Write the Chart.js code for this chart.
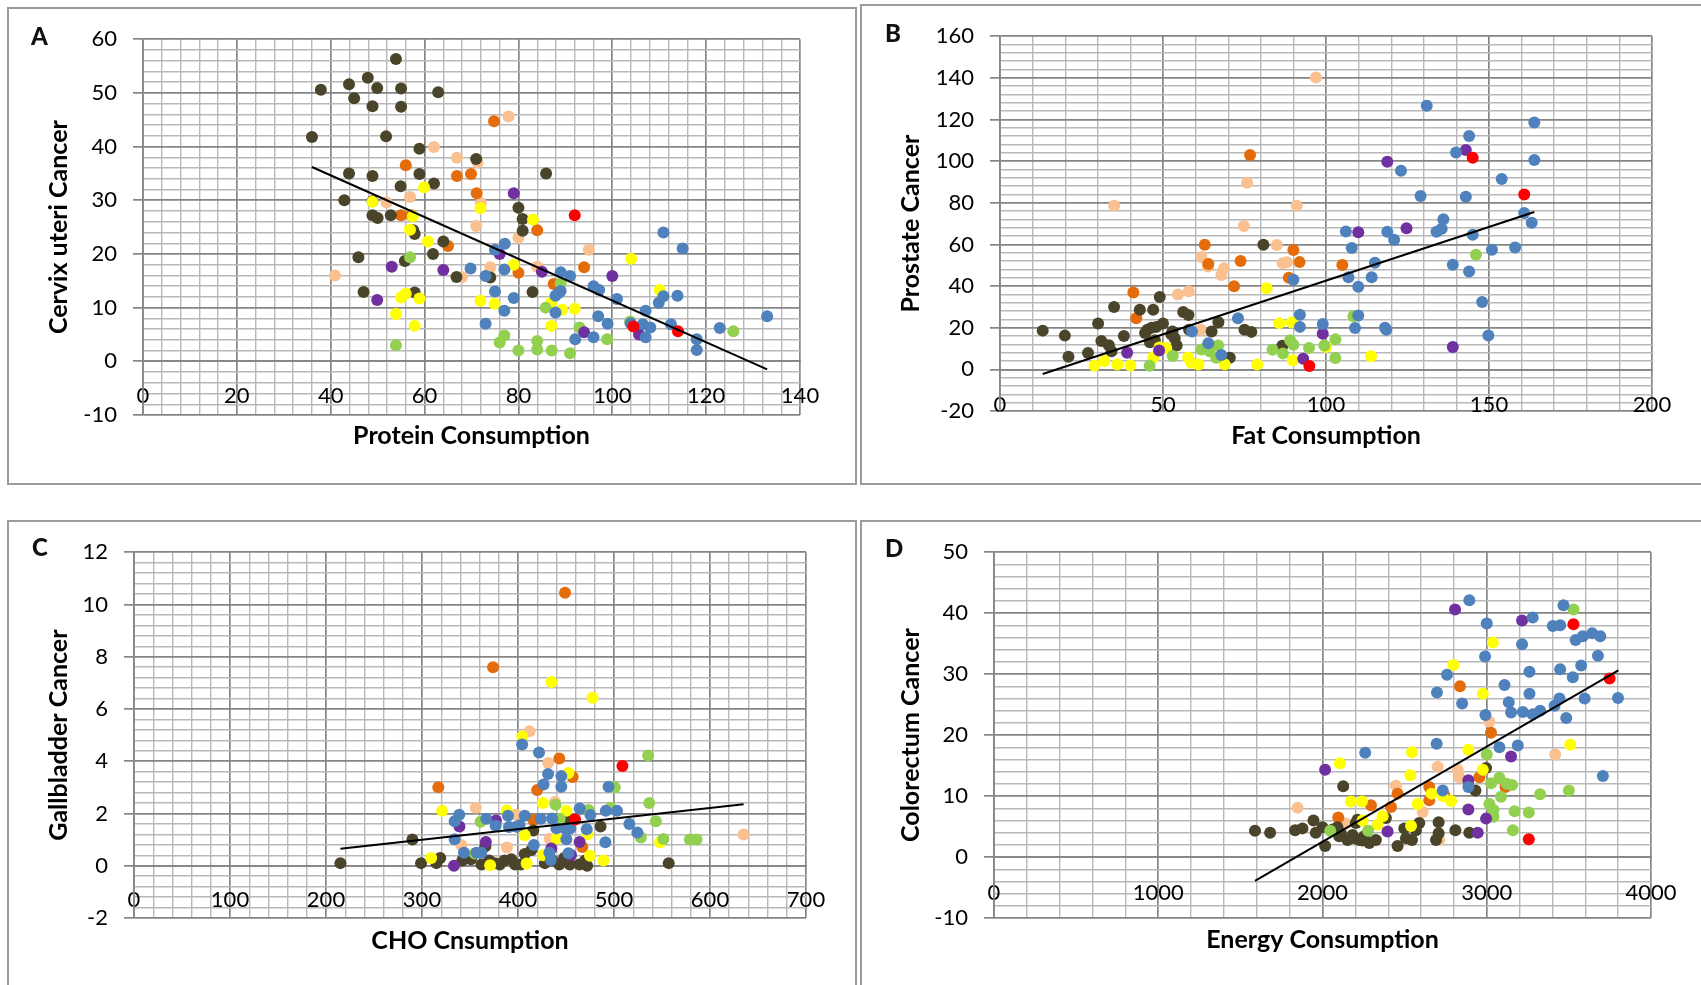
<!DOCTYPE html>
<html>
<head>
<meta charset="utf-8">
<script src="https://cdn.jsdelivr.net/npm/chart.js@4.4.1/dist/chart.umd.min.js"></script>
<style>
  body { margin: 0; background: #fff; overflow: hidden; font-family: Lato, sans-serif; }
  #page { position: relative; width: 1701px; height: 985px; }
  .frame { position: absolute; border: 2px solid #9b9b9b; box-sizing: border-box; }
  .tag { position: absolute; font: 900 24px Lato, sans-serif; line-height: 24px; color: #111; }
  canvas { position: absolute; }
</style>
</head>
<body>
<div id="page">
  <div class="frame" style="left:7px;top:7px;width:850px;height:478px"></div>
  <div class="frame" style="left:860px;top:4px;width:900px;height:481px"></div>
  <div class="frame" style="left:7px;top:520px;width:850px;height:500px"></div>
  <div class="frame" style="left:860px;top:520px;width:900px;height:500px"></div>

  <canvas id="chartA" width="844" height="472" style="left:10px;top:10px"></canvas>
  <canvas id="chartB" width="838" height="474" style="left:863px;top:7px"></canvas>
  <canvas id="chartC" width="844" height="462" style="left:10px;top:523px"></canvas>
  <canvas id="chartD" width="838" height="462" style="left:863px;top:523px"></canvas>

  <div class="tag" style="left:31px;top:24px">A</div>
  <div class="tag" style="left:885px;top:21px">B</div>
  <div class="tag" style="left:32px;top:535px">C</div>
  <div class="tag" style="left:885px;top:536px">D</div>
</div>
<script>
// colours of the country groups
const BROWN = "#4A452A", ORANGE = "#E46C0A", PEACH = "#FAC090", YELLOW = "#FFFF00";
const GREEN = "#92D050", PURPLE = "#7030A0", BLUE = "#4F81BD", RED = "#FF0000";
const MAJOR = "#858585", MINOR = "#b8b8b8";

// ---- A: protein vs cervix uteri cancer
const aBrown = [[36,41.8],[37.9,50.6],[43.9,51.6],[45,49],[47.9,52.8],[49.9,50.9],[48.9,47.5],[53.9,56.3],[55,50.8],[55,47.4],[51.8,41.9],[58.9,39.6],[43.9,35],[48.9,34.5],[58.9,34.9],[54.9,32.6],[42.9,30],[48.9,29.8],[48.9,27.2],[50,26.7],[52.8,27.2],[57.9,23.7],[57.6,24.4],[55.8,18.7],[45.9,19.4],[47,12.9],[57.9,12.8],[61.8,20],[62,33.1],[62.9,50.1],[71,37.7],[64,22.3],[66.8,15.7],[74,15.6],[80,28.6],[80.9,26.5],[80.9,24.3],[85.9,35],[83,12.9]];
const aOrange = [[56,36.5],[55,27.2],[57.2,27.2],[74.8,44.7],[66.9,34.5],[69.9,34.9],[71.1,31.3],[65,21.5],[84,24.4],[80,16.5],[94,17.5],[87.5,14.4]];
const aPeach = [[40.9,16],[51.9,29.6],[56.9,30.6],[62,39.9],[66.9,37.9],[77.9,45.6],[72,29.5],[71,25.2],[80,23],[95,20.8],[74,17.5],[68,15.7],[84,17.6],[71.3,37.1]];
const aYellow = [[59.9,32.4],[60.7,22.3],[48.9,29.7],[56.9,24.5],[57.5,27],[55,11.9],[56,12.6],[58.9,11.7],[53.9,8.8],[57.9,6.6],[71.9,28.5],[79,18],[83.1,26.4],[71.9,11.3],[74.9,10.7],[87,11],[89.3,9.6],[92,9.8],[87,6.6],[104,19.1],[110.1,13.3]];
const aGreen = [[56.9,19.4],[53.9,3],[77,4.8],[76,3.5],[80,2],[84,3.8],[84,2.2],[87.1,2],[91,1.5],[85.8,10],[93,6.3],[98.9,4.1],[103.8,7.4],[125.8,5.6],[89,14.5]];
const aPurple = [[53,17.6],[49.9,11.4],[64,17],[79,31.3],[76,20],[85,16.7],[100,15.9],[94,5.4],[105.7,5]];
const aRed = [[92,27.2],[114,5.6],[104.5,6.5]];
const aBlue = [[110.9,24],[115,21],[77.1,21.9],[75,20.8],[69.8,17.3],[77,17.1],[73,15.9],[75,13],[79,11.8],[77,9.4],[73,7],[89,16.6],[91,15.9],[96,14],[97.2,13.3],[89,13.1],[87.9,12.2],[87.9,9.1],[92.1,4.1],[96,4.5],[97,8.4],[99,7],[101,11.6],[107.1,9.4],[109.9,10.9],[110.9,12.1],[113.9,12.2],[103.9,7.1],[106.5,6.9],[108.1,6.3],[107.1,4.5],[112.5,6.9],[118,4.1],[118,2.1],[122.9,6.2],[133,8.4],[88.5,12.7]];
const aTrend = [[36,36.2],[133,-1.5]];

// ---- B: fat vs prostate cancer
const bBrown = [[13.1,18.6],[19.9,16.2],[21,6.1],[27,7.9],[30.1,22],[31.1,13.6],[33.4,11.6],[34.2,8.7],[35,30],[38,16],[42.9,28.6],[47,28.6],[49,34.7],[45.2,19],[46.5,20],[48,20.4],[46,13],[47.5,14],[52.9,18.2],[53.6,14.9],[54.2,11.5],[52.6,16.7],[56.2,27.6],[57.8,26.1],[58,19],[64.9,18.2],[67,22.6],[70.5,5.6],[75,19],[77.1,18],[80.8,59.8],[86.6,11.3],[44.5,17.5],[50,22]];
const bOrange = [[40.9,36.9],[41.8,24.6],[62.8,59.8],[63.9,50.6],[71.8,39.9],[73.8,52],[76.7,102.9],[90,57.3],[91.9,51.5],[88.6,44],[105,50.1]];
const bPeach = [[35,78.6],[75.8,89.6],[74.8,68.9],[54.6,35.9],[57.9,37.5],[61.8,54],[63.8,49.4],[67.9,45.3],[68.7,48.5],[84.9,59.7],[86.7,51],[96.9,140.2],[91,78.6],[88,51.4],[61.7,19]];
const bYellow = [[29,1.7],[32,4],[36,2.3],[40,1.9],[47,5.7],[48.9,10.5],[51,10.3],[57.7,5.7],[58.7,3.2],[60.9,2.3],[68.9,2.4],[78.9,2.3],[81.8,38.9],[85.7,22.2],[89.5,22.5],[89.8,4.4],[113.8,6.3],[100,10.7]];
const bGreen = [[45.9,1.7],[53,6.4],[61.8,9.5],[64.3,8.7],[66.9,11.5],[66.3,5.6],[83.6,9.4],[86.8,7.6],[89,14],[90,11.8],[94.8,10.3],[99.5,11.5],[102.9,14.4],[102.9,5.5],[108.4,25.5],[146,55]];
const bPurple = [[39,8],[48.8,9.1],[118.8,99.7],[109.9,65.9],[124.7,67.8],[142.9,105.3],[99,17.1],[93,5.1],[138.9,10.7]];
const bRed = [[145,101.6],[160.8,84],[94.9,1.6]];
const bBlue = [[58.9,18.2],[63.9,12.5],[67.9,6.9],[73,24.6],[130.9,126.6],[143.9,112.1],[139.9,104.1],[123,95.4],[163.9,118.6],[163.9,100.5],[153.9,91.4],[129,83.3],[142.9,82.9],[160.8,75.1],[163.1,70.4],[136,72.1],[133.9,66.1],[135.5,67.5],[118.8,66.1],[120.9,62.2],[106.1,66.2],[107.9,58.3],[145,64.6],[150.9,57.4],[158,58.5],[115,51.2],[106.9,44.2],[114,44.2],[109.9,39.7],[138.9,50.2],[143.9,47],[147.9,32.3],[149.8,16.3],[90,43],[92,26.2],[92,20.4],[99,21.8],[109.9,25.9],[108.9,19.9],[118.1,20],[118.5,19]];
const bTrend = [[13.1,-2.2],[163.9,75.6]];

// ---- C: CHO vs gallbladder cancer
const cBrown = [[215,0.1],[290,1.0],[299,0.1],[315,0.1],[319,0.3],[342,0.2],[351,0.25],[362,0.05],[366,0.75],[370,0.2],[381,0.05],[386,0.2],[393,0.25],[397,0.05],[403,0.05],[407,0.45],[414,0.6],[416,1.35],[428,0.1],[436,0.2],[443,0.05],[448,0.3],[454,0.05],[454,1.75],[464,0.05],[470,0.2],[472,0],[486,1.5],[557,0.1],[376,0.1]];
const cOrange = [[449,10.45],[374,7.6],[317,3.0],[443,4.1],[457,3.4],[420,2.9],[416,1.75],[467,0.72],[443,1.5]];
const cPeach = [[412,5.15],[635,1.2],[431.5,3.93],[356,2.22],[388.5,0.7],[341,0.79],[433,1.03],[438.5,2.44],[398,1.95]];
const cYellow = [[404.5,4.95],[434.8,7.03],[477.6,6.43],[321,2.1],[309.6,0.3],[371,0.02],[409,0.09],[489,0.2],[548,0.9],[475,0.38],[426,2.4],[452.5,3.55],[407,1.17],[388.3,2.11],[450.4,2.1],[472,1.2],[440,1.04],[426,0.4]];
const cGreen = [[535.6,4.22],[536.7,2.4],[543.6,1.7],[528,1.08],[551.5,1.02],[579,1.0],[586,1.0],[500.8,3.0],[439.2,2.33],[473.5,2.13],[361,1.68],[496.5,2.22],[355,0.47],[443.4,1.8]];
const cPurple = [[339,1.5],[377,1.73],[366.5,0.91],[333.3,0],[464.2,0.91],[455.2,0.41],[434.7,0.66]];
const cRed = [[508.8,3.82],[459.5,1.77]];
const cBlue = [[404.3,4.64],[421.9,4.33],[431.3,3.51],[426.7,3.11],[445.1,3.43],[445.1,3.02],[494.3,3.02],[338.8,1.95],[334,1.7],[367,1.8],[376.7,1.53],[389.6,1.91],[390.6,1.48],[401.5,1.55],[407,1.91],[423.8,1.8],[435.6,1.81],[440,1.43],[450.4,1.01],[454.6,1.43],[464.3,2.19],[475.4,1.94],[471.6,1.4],[491.4,2.1],[503.2,2.1],[516,1.6],[524.3,1.27],[491,0.9],[334,1.01],[343.7,0.5],[356.9,0.5],[361.8,0.5],[416.5,0.79],[432.7,0.5],[434.2,0.22],[452.5,0.48],[449.3,1.42],[398.3,1.49]];
const cTrend = [[215,0.65],[635,2.35]];

// ---- D: energy vs colorectum cancer
const dBrown = [[1589,4.3],[1681,4.0],[1833,4.4],[1878,4.7],[1945,6.0],[1959,4.0],[2000,4.9],[2016,1.8],[2061,4.5],[2091,4.9],[2102,3.4],[2112,3.9],[2126,11.6],[2152,2.8],[2183,3.6],[2193,3.1],[2203,5.6],[2213,6.1],[2224,2.8],[2244,2.7],[2254,3.4],[2285,2.3],[2325,2.8],[2386,6.4],[2457,1.8],[2498,4.7],[2508,3.1],[2545,2.8],[2569,4.4],[2589,5.6],[2691,2.8],[2707,5.7],[2707,3.9],[2809,4.4],[2894,4.0],[2931,10.9],[2996,14.6]];
const dOrange = [[2096,6.5],[2295,8.5],[2417,8.2],[2457,10.4],[2650,11.5],[2650,9.3],[2742,10.1],[2955,13.1],[2837,28.0],[3026,20.4],[3114,11.5]];
const dPeach = [[1848,8.1],[2142,5.5],[2447,11.7],[2610,7.4],[2701,14.8],[2823,14.3],[2833,13.1],[2711,2.8],[3016,22.2],[3417,16.8]];
const dYellow = [[3037,35.2],[2797,31.5],[2976,26.8],[2888,17.6],[3508,18.4],[2106,15.4],[2545,17.2],[2535,13.4],[2173,9.1],[2240,9.1],[2366,6.7],[2335,5.3],[2579,8.7],[2732,10.0],[2783,9.2],[2664,10.4],[2976,14.3],[2539,5.1],[2244,6.0]];
const dGreen = [[3528,40.6],[3000,16.8],[3026,12.1],[3077,13.0],[3122,12.0],[3154,11.8],[3087,9.9],[3016,8.7],[3041,7.7],[3041,6.6],[3169,7.5],[3256,7.3],[3325,10.3],[3500,10.9],[3159,4.4],[2047,4.3],[2278,4.3]];
const dPurple = [[2807,40.6],[3215,38.8],[2016,14.3],[3148,16.5],[2888,12.6],[2888,7.8],[2996,6.3],[2396,4.2],[2945,4.0]];
const dRed = [[3528,38.2],[3748,29.3],[3256,2.9]];
const dBlue = [[2894,42.1],[3467,41.3],[3280,39.3],[3000,38.3],[3402,37.9],[3447,38.0],[3541,35.6],[3585,36.2],[3642,36.7],[3691,36.2],[3215,34.9],[2990,32.9],[3677,33.0],[2758,29.9],[3260,30.4],[3447,30.8],[3575,31.4],[3524,29.5],[3108,28.2],[2697,27.0],[3260,26.8],[2850,25.2],[3134,25.4],[3596,26.0],[3799,26.1],[3443,26.0],[3413,24.8],[3148,23.7],[3220,23.8],[3280,23.4],[3325,24.0],[2992,23.3],[3484,22.8],[2695,18.6],[3077,18.0],[3189,18.3],[3707,13.3],[2260,17.1],[2732,10.9],[2888,11.5]];
const dTrend = [[1589,-3.9],[3801,30.6]];

function isMajor(v, step) {
    return Math.abs(v / step - Math.round(v / step)) < 1e-6;
}

function pts(arr) {
    return arr.map(p => ({ x: p[0], y: p[1] }));
}

function dots(arr, color) {
    return {
        data: pts(arr), xAxisID: "x", yAxisID: "y",
        backgroundColor: color, borderColor: color, borderWidth: 0,
        pointRadius: 6, pointHoverRadius: 6
    };
}

function makePanel(p) {
    const tickFont = { family: "Lato", size: 22 };
    const titleFont = { family: "Lato", size: 25, weight: "bold" };
    const datasets = [
        { data: pts(p.trend), xAxisID: "x", yAxisID: "y", showLine: true,
          borderColor: "#000", borderWidth: 2, pointRadius: 0, fill: false },
        dots(p.red, RED), dots(p.blue, BLUE), dots(p.purple, PURPLE), dots(p.green, GREEN),
        dots(p.yellow, YELLOW), dots(p.brown, BROWN), dots(p.orange, ORANGE), dots(p.peach, PEACH)
    ];
    new Chart(document.getElementById(p.id), {
        type: "scatter",
        data: { datasets: datasets },
        options: {
            responsive: false, animation: false, devicePixelRatio: 1, events: [],
            layout: { padding: { left: 20, top: p.pad[0], right: p.pad[1], bottom: 0 } },
            plugins: { legend: { display: false }, tooltip: { enabled: false } },
            scales: {
                x: {
                    type: "linear", position: { y: 0 }, min: p.x[0], max: p.x[1],
                    ticks: {
                        stepSize: p.x[2], autoSkip: false, maxRotation: 0, minRotation: 0,
                        padding: p.xLabelPad, font: tickFont, color: "#000",
                        callback: v => isMajor(v, p.x[3]) ? String(Math.round(v)) : ""
                    },
                    grid: {
                        drawTicks: false,
                        color: c => isMajor(c.tick.value, p.x[3]) ? MAJOR : MINOR,
                        lineWidth: c => isMajor(c.tick.value, p.x[3]) ? 1.7 : 1.4
                    },
                    border: { display: true, color: MAJOR, width: 1.7 }
                },
                xt: {
                    type: "linear", position: "bottom",
                    ticks: { display: false }, grid: { display: false, drawTicks: false },
                    border: { display: false },
                    title: { display: true, text: p.xTitle, font: titleFont, color: "#000",
                             padding: { top: 0, bottom: p.xTitlePad } },
                    afterFit: s => { s.height = p.xH; }
                },
                y: {
                    type: "linear", position: "left", min: p.y[0], max: p.y[1],
                    ticks: {
                        stepSize: p.y[2], autoSkip: false, padding: 16, font: tickFont, color: "#000",
                        callback: v => isMajor(v, p.y[3]) ? String(Math.round(v)) : ""
                    },
                    grid: {
                        tickLength: 10,
                        color: c => isMajor(c.tick.value, p.y[3]) ? MAJOR : MINOR,
                        tickColor: c => isMajor(c.tick.value, p.y[3]) ? MAJOR : "rgba(0,0,0,0)",
                        lineWidth: c => isMajor(c.tick.value, p.y[3]) ? 1.7 : 1.4
                    },
                    border: { display: true, color: MAJOR, width: 1.7 },
                    title: { display: true, text: p.yTitle, font: titleFont, color: "#000",
                             padding: { top: p.yTitlePad, bottom: 0 } },
                    afterFit: s => { s.width = p.yW; }
                }
            }
        }
    });
}

makePanel({ id: "chartA", x: [0, 140, 4, 20], y: [-10, 60, 2, 10],
    xTitle: "Protein Consumption", yTitle: "Cervix uteri Cancer",
    pad: [28, 54], yW: 113, xH: 67, xTitlePad: 31, yTitlePad: 14, xLabelPad: 21,
    brown: aBrown, orange: aOrange, peach: aPeach, yellow: aYellow, green: aGreen,
    purple: aPurple, red: aRed, blue: aBlue, trend: aTrend });

makePanel({ id: "chartB", x: [0, 200, 10, 50], y: [-20, 160, 4, 20],
    xTitle: "Fat Consumption", yTitle: "Prostate Cancer",
    pad: [26, 49], yW: 117, xH: 70, xTitlePad: 30, yTitlePad: 13, xLabelPad: 22,
    brown: bBrown, orange: bOrange, peach: bPeach, yellow: bYellow, green: bGreen,
    purple: bPurple, red: bRed, blue: bBlue, trend: bTrend });

makePanel({ id: "chartC", x: [0, 700, 20, 100], y: [-2, 12, 0.4, 2],
    xTitle: "CHO Cnsumption", yTitle: "Gallbladder Cancer",
    pad: [27, 48], yW: 104, xH: 67, xTitlePad: 29, yTitlePad: 14, xLabelPad: 21,
    brown: cBrown, orange: cOrange, peach: cPeach, yellow: cYellow, green: cGreen,
    purple: cPurple, red: cRed, blue: cBlue, trend: cTrend });

makePanel({ id: "chartD", x: [0, 4000, 200, 1000], y: [-10, 50, 2, 10],
    xTitle: "Energy Consumption", yTitle: "Colorectum Cancer",
    pad: [27, 50], yW: 111, xH: 67, xTitlePad: 30, yTitlePad: 13, xLabelPad: 23,
    brown: dBrown, orange: dOrange, peach: dPeach, yellow: dYellow, green: dGreen,
    purple: dPurple, red: dRed, blue: dBlue, trend: dTrend });
</script>
</body>
</html>
